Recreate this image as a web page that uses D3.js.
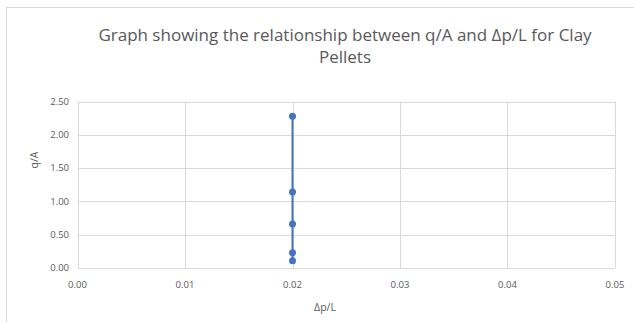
<!DOCTYPE html>
<html><head><meta charset="utf-8">
<script src="https://cdn.jsdelivr.net/npm/d3@7"></script>
<style>body{margin:0;background:#fff;} svg{display:block;}</style>
</head><body>
<script>
const xValues = [0.02, 0.02, 0.02, 0.02, 0.02];
const yValues = [2.28, 1.14, 0.66, 0.23, 0.11];
const xTicks = [0, 0.01, 0.02, 0.03, 0.04, 0.05];
const yTicks = [0, 0.5, 1.0, 1.5, 2.0, 2.5];
const titleLines = ["Graph showing the relationship between q/A and Δp/L for Clay", "Pellets"];
const xTitle = "Δp/L";
const yTitle = "q/A";

const W = 634, H = 322;
const svg = d3.select("body").append("svg").attr("width", W).attr("height", H);
svg.append("rect").attr("x", 6.5).attr("y", 7.5).attr("width", W + 10).attr("height", H + 10)
  .attr("fill", "#fff").attr("stroke", "#d9d9d9").attr("stroke-width", 1);

const m = {l: 77.5, r: 615, t: 101.5, b: 268};
const x = d3.scaleLinear().domain([0, 0.05]).range([m.l, m.r]);
const y = d3.scaleLinear().domain([0, 2.5]).range([m.b, m.t]);
const font = "'Open Sans', sans-serif";
const grey = "#595959";

// gridlines
svg.append("g").selectAll("line").data(yTicks).join("line")
  .attr("x1", m.l).attr("x2", m.r).attr("y1", d => Math.round(y(d)) + 0.5).attr("y2", d => Math.round(y(d)) + 0.5)
  .attr("stroke", "#d9d9d9").attr("stroke-width", 1);
svg.append("g").selectAll("line").data(xTicks).join("line")
  .attr("x1", d => Math.round(x(d)) + 0.5).attr("x2", d => Math.round(x(d)) + 0.5).attr("y1", m.t).attr("y2", m.b)
  .attr("stroke", "#d9d9d9").attr("stroke-width", 1);

// tick labels
svg.append("g").selectAll("text").data(yTicks).join("text")
  .attr("x", 69).attr("y", d => y(d)).attr("dy", "0.35em").attr("text-anchor", "end")
  .attr("font-family", font).attr("font-size", 9.5).attr("fill", grey).text(d => d.toFixed(2));
svg.append("g").selectAll("text").data(xTicks).join("text")
  .attr("x", d => x(d)).attr("y", 288).attr("text-anchor", "middle")
  .attr("font-family", font).attr("font-size", 9.5).attr("fill", grey).text(d => d.toFixed(2));

// axis titles
svg.append("text").attr("x", 325).attr("y", 311).attr("text-anchor", "middle")
  .attr("font-family", font).attr("font-size", 10.5).attr("fill", grey).text(xTitle);
svg.append("text").attr("transform", "translate(38,160) rotate(-90)").attr("text-anchor", "middle")
  .attr("font-family", font).attr("font-size", 10.5).attr("fill", grey).text(yTitle);

// title
svg.append("g").selectAll("text").data(titleLines).join("text")
  .attr("x", 345).attr("y", (d, i) => 41 + i * 22).attr("text-anchor", "middle")
  .attr("font-family", font).attr("font-size", 17).attr("fill", grey).text(d => d);

// series
const pts = xValues.map((v, i) => [v, yValues[i]]);
svg.append("path").datum(pts)
  .attr("d", d3.line().x(d => x(d[0])).y(d => y(d[1])))
  .attr("fill", "none").attr("stroke", "#4472C4").attr("stroke-width", 2);
svg.append("g").selectAll("circle").data(pts).join("circle")
  .attr("cx", d => x(d[0])).attr("cy", d => y(d[1])).attr("r", 3.5).attr("fill", "#4472C4");
</script>
</body></html>
